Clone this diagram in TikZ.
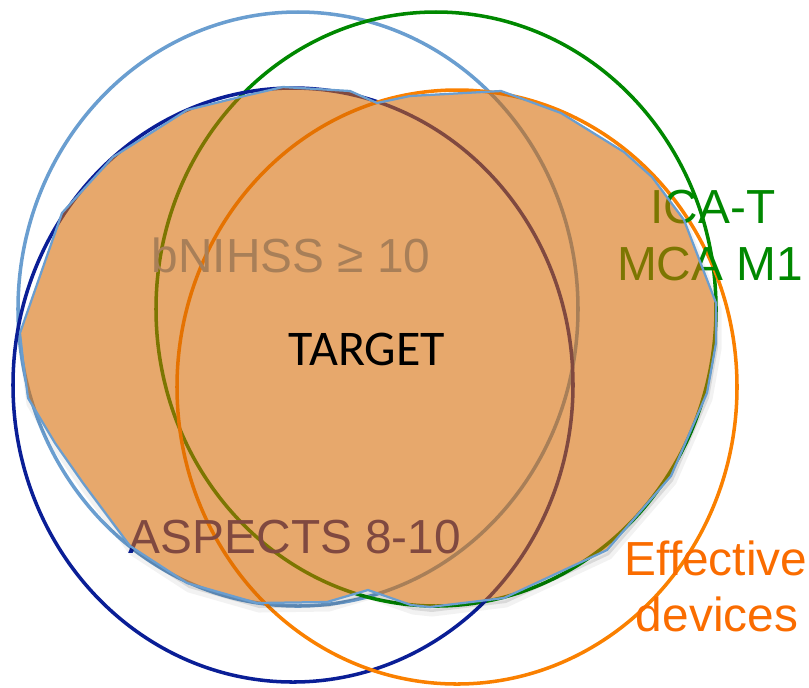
\documentclass[tikz,border=0pt]{standalone}
\usepackage{fontspec}
\setmainfont{Liberation Sans}
\newfontfamily\targetfont{Carlito}

\definecolor{setblue}{RGB}{106,158,208}
\definecolor{setgreen}{RGB}{0,136,0}
\definecolor{setnavy}{RGB}{10,30,150}
\definecolor{setorange}{RGB}{250,128,0}
\definecolor{devorange}{RGB}{250,108,0}
\definecolor{targetfill}{RGB}{214,105,2}

% outline of the shaded target zone (pixel-like units)
\def\targetoutline{(20,333) -- (62,213) -- (113,157) -- (187,110) -- (240,97)
    -- (283,87) -- (350,91) -- (377,103) -- (410,96) -- (501,91) -- (561,113)
    -- (624,152) -- (652,177) -- (684,220) -- (716,303) -- (716,343)
    -- (707,393) -- (671,476) -- (607,550) -- (504,598) -- (430,607)
    -- (411,605) -- (368,590) -- (327,602) -- (257,603) -- (187,583)
    -- (130,546) -- (83,483) -- (55,443) -- (28,398) -- (23,360) -- cycle}

\begin{document}
\begin{tikzpicture}[
    x=0.025cm, y=-0.025cm,
    % Estilos
    set_line/.style={line width=2.5pt},
    set_label/.style={font=\fontsize{34}{40}\selectfont, anchor=base, inner sep=0pt},
    target_area/.style={fill=targetfill, fill opacity=0.58, draw=setblue, line width=1.6pt, line join=round}
]
\useasboundingbox (0,0) rectangle (809,687);

% --- los cuatro criterios ---
\coordinate (c_nihss) at (298,309);
\coordinate (c_occl) at (436,309);
\coordinate (c_aspects) at (293,385);
\coordinate (c_devices) at (457,387);

\draw[set_line, setblue] (c_nihss) ellipse [x radius=280, y radius=297];
\draw[set_line, setgreen] (c_occl) ellipse [x radius=280, y radius=297];
\draw[set_line, setnavy] (c_aspects) ellipse [x radius=280, y radius=297];
\draw[set_line, setorange] (c_devices) ellipse [x radius=280, y radius=297];

% --- etiquetas ---
\node[set_label, text=setblue] (lbl_nihss) at (291,272) {bNIHSS ≥ 10};
\node[set_label, text=setgreen] (lbl_ica) at (713,223) {ICA-T};
\node[set_label, text=setgreen] (lbl_mca) at (710,280) {MCA M1};
\node[set_label, text=setnavy] (lbl_aspects) at (295,553) {ASPECTS 8-10};
\node[set_label, text=devorange] (lbl_eff) at (716,575) {Effective};
\node[set_label, text=devorange] (lbl_dev) at (717,631) {devices};

% --- zona objetivo (sombra + relleno) ---
\begin{scope}[even odd rule]
  \clip (0,0) rectangle (809,687) \targetoutline;
  \fill[black, opacity=0.10, shift={(2,5)}] \targetoutline;
  \draw[black, opacity=0.05, line width=5pt, shift={(2,6)}] \targetoutline;
\end{scope}
\draw[target_area] \targetoutline;

\node[set_label, font=\targetfont\fontsize{35.5}{42}\selectfont] (lbl_target) at (367,365) {TARGET};

\end{tikzpicture}
\end{document}
